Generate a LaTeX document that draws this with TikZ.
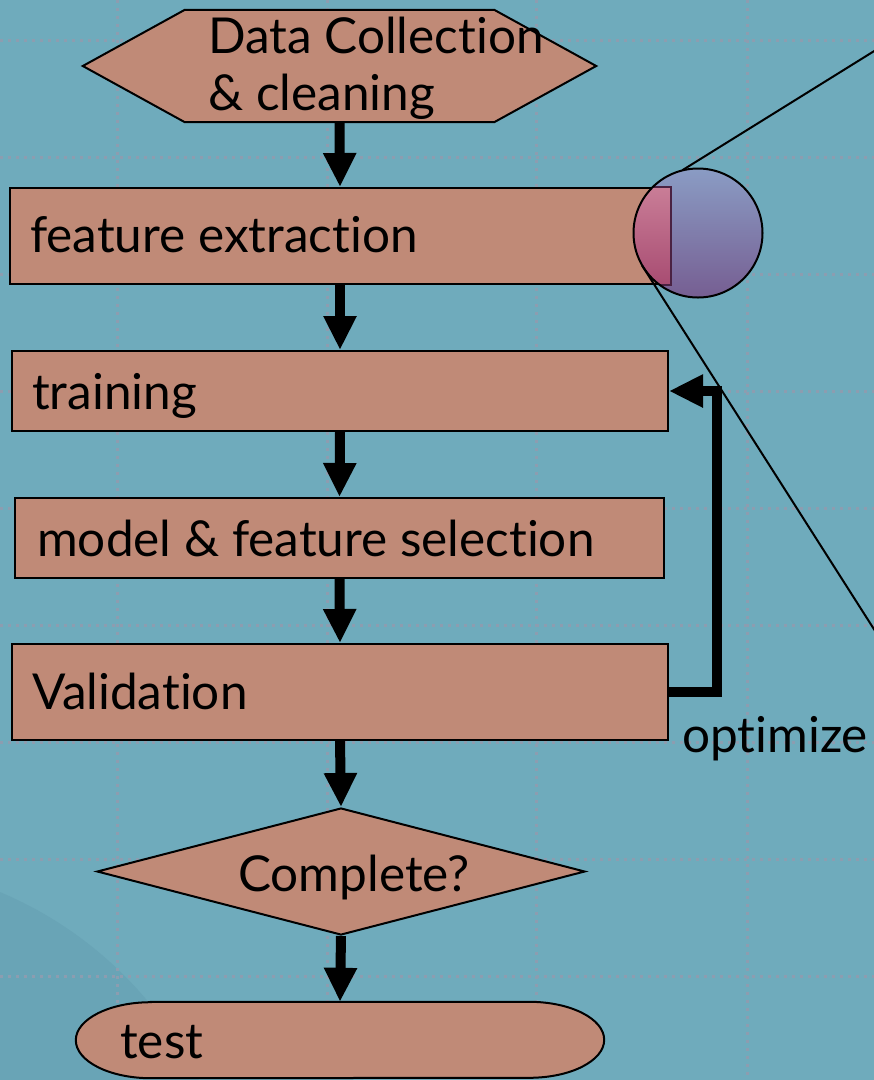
\documentclass[tikz,border=0pt]{standalone}
\usepackage{fontspec}
\setmainfont{Lato}[Ligatures={NoCommon}]
\usetikzlibrary{arrows.meta,shapes.geometric,calc}

\definecolor{bgteal}{HTML}{6FABBC}
\definecolor{bgdark}{HTML}{69A4B6}
\definecolor{gridgray}{HTML}{8C9DB0}
\definecolor{boxfill}{HTML}{C08A77}
\definecolor{magtop}{HTML}{8A9CC4}
\definecolor{magbot}{HTML}{765E92}
\definecolor{pinktop}{HTML}{C97D97}
\definecolor{pinkbot}{HTML}{A84C72}
\definecolor{edgepurple}{HTML}{4A2242}

\begin{document}
\begin{tikzpicture}[x=1pt,y=-1pt,
  box/.style={draw=black, line width=2pt, fill=boxfill, inner sep=0pt},
  lbl/.style={anchor=base west, inner sep=0pt, font=\fontsize{49.5}{58}\selectfont},
  flow/.style={line width=10pt, -{Triangle[length=34pt,width=31pt]}},
  griddot/.style={gridgray, line width=3pt, dash pattern=on 3pt off 5pt},
  thinline/.style={line width=2pt, black}]

\useasboundingbox (0,0) rectangle (874,1080);
\clip (0,0) rectangle (874,1080);

% backdrop
\fill[bgteal] (0,0) rectangle (874,1080);
\fill[bgdark] (-150,1250) circle (388pt);
\foreach \y in {40,157,274,391,508,625,742,859,976}
  \draw[griddot] (0,\y) -- (874,\y);
\foreach \x in {117,327,536,747}
  \draw[griddot] (\x,0) -- (\x,1080);

% flow chart shapes
\node[minimum width=513pt, minimum height=112pt, inner sep=0pt] (dc) at (339.5,66) {};
\filldraw[fill=boxfill, draw=black, line width=2pt]
  (dc.west) -- ($(dc.north west)+(102,0)$) -- ($(dc.north east)+(-102,0)$)
  -- (dc.east) -- ($(dc.south east)+(-102,0)$) -- ($(dc.south west)+(102,0)$) -- cycle;

\node[box, minimum width=660pt, minimum height=96pt] (fe) at (340,236) {};
\node[box, minimum width=656pt, minimum height=80pt] (tr) at (340,391) {};
\node[box, minimum width=649pt, minimum height=80pt] (ms) at (339.5,538) {};
\node[box, minimum width=656pt, minimum height=96pt] (va) at (340,692) {};
\node[box, diamond, aspect=3.84, minimum width=488pt, minimum height=127pt] (co) at (341,871.5) {};

\node[minimum width=528pt, minimum height=76pt, inner sep=0pt] (te) at (340,1040) {};
\filldraw[fill=boxfill, draw=black, line width=2pt]
  ($(te.north west)+(75,0)$) -- ($(te.north east)+(-75,0)$)
  arc[start angle=90, end angle=-90, x radius=75pt, y radius=38pt]
  -- ($(te.south west)+(75,0)$)
  arc[start angle=270, end angle=90, x radius=75pt, y radius=38pt] -- cycle;

% labels
\node[lbl] (dct1) at (208,53) {Data Collection};
\node[lbl] (dct2) at (208,110) {\& cleaning};
\node[lbl] (fet) at (30,252.7) {feature extraction};
\node[lbl] (trt) at (32,409) {training};
\node[lbl] (mst) at (37,556) {model \& feature selection};
\node[lbl] (vat) at (32,709) {Validation};
\node[lbl] (cot) at (238,891) {Complete?};
\node[lbl] (tet) at (120,1058) {test};
\node[lbl] (opt) at (682,752) {optimize};

% connectors
\draw[flow] (dc.south) -- (fe.north);
\draw[flow] (fe.south) -- (tr.north);
\draw[flow] (tr.south) -- (ms.north);
\draw[flow] (ms.south) -- (va.north);
\draw[flow] (va.south) -- (co.north);
\draw[flow] (co.south) -- (te.north);
\draw[flow] (va.east) -- ++(48,0) |- (tr.east);

% magnifier over the feature extraction box
\node[circle, minimum size=129pt, inner sep=0pt] (mag) at (698,233) {};
\shade[top color=magtop, bottom color=magbot] (mag.center) circle (64.5pt);
\begin{scope}
  \clip (mag.center) circle (64.5pt);
  \shade[top color=pinktop, bottom color=pinkbot] (fe.north west) rectangle (fe.south east);
  \draw[edgepurple, line width=2pt] (fe.north west) rectangle (fe.south east);
\end{scope}
\draw[thinline] (mag.center) circle (64.5pt);

\coordinate (k1) at (900,35);
\coordinate (k2) at (900,670);
\draw[thinline] (mag.104) -- (k1);
\draw[thinline] (mag.210) -- (k2);
\end{tikzpicture}
\end{document}
